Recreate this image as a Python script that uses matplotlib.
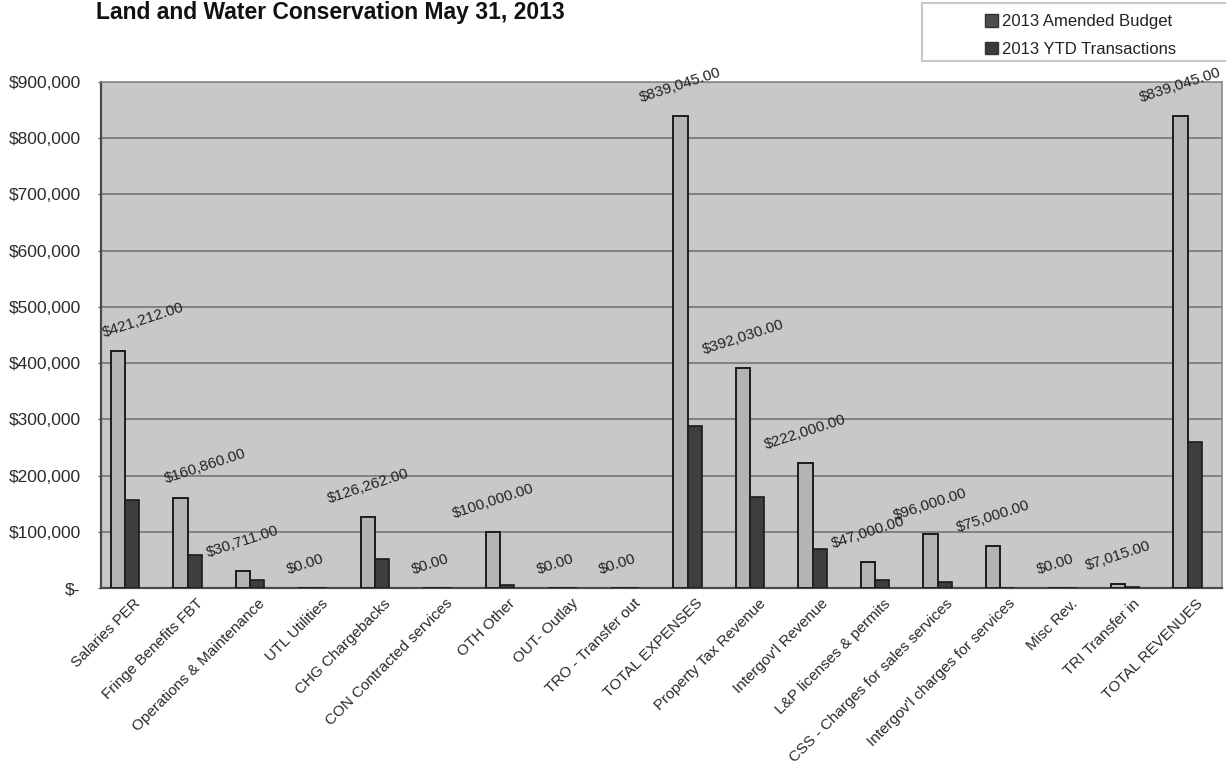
import matplotlib
matplotlib.use("Agg")
import matplotlib.pyplot as plt
from matplotlib.patches import Patch, Rectangle
from matplotlib.ticker import FuncFormatter

plt.rcParams['font.family'] = ['Liberation Sans', 'DejaVu Sans']

title = "Land and Water Conservation May 31, 2013"
categories = ["Salaries PER", "Fringe Benefits FBT", "Operations & Maintenance",
              "UTL Utilities", "CHG Chargebacks", "CON Contracted services",
              "OTH Other", "OUT- Outlay", "TRO - Transfer out", "TOTAL EXPENSES",
              "Property Tax Revenue", "Intergov'l Revenue", "L&P licenses & permits",
              "CSS - Charges for sales services", "Intergov'l charges for services",
              "Misc Rev.", "TRI Transfer in", "TOTAL REVENUES"]
series_names = ["2013 Amended Budget", "2013 YTD Transactions"]
budget = [421212, 160860, 30711, 0, 126262, 0, 100000, 0, 0, 839045,
          392030, 222000, 47000, 96000, 75000, 0, 7015, 839045]
ytd = [157000, 58000, 15000, 0, 51000, 0, 6000, 0, 0, 288000,
       162000, 70000, 15000, 10000, 0, 0, 2000, 259000]
y_ticks = [0, 100000, 200000, 300000, 400000, 500000, 600000, 700000, 800000, 900000]

# label nudges (pixels) for the first two value labels
label_dx = {0: 25, 1: 25}

W, H = 1226, 770
fig = plt.figure(figsize=(W / 100, H / 100), dpi=100)
ax = fig.add_axes([100.7 / W, 1 - 588 / H, 1121 / W, (588 - 82) / H])

bg = '#c8c8c8'
ax.set_facecolor(bg)
bw = 0.23
x = list(range(len(categories)))
ax.bar([i - bw / 2 for i in x], budget, width=bw, color='#b4b4b4',
       edgecolor='#1c1c1c', linewidth=1.4, zorder=3, label=series_names[0])
ax.bar([i + bw / 2 for i in x], ytd, width=bw, color='#3e3e3e',
       edgecolor='#1c1c1c', linewidth=1.2, zorder=3, label=series_names[1])

for i, v in enumerate(budget):
    ax.annotate("${:,.2f}".format(v), xy=(i - bw / 2, v),
                xytext=(label_dx.get(i, 0) * 0.72, 8), textcoords='offset points',
                ha='center', va='bottom', rotation=18, fontsize=11,
                color='#222222', zorder=5, annotation_clip=False)

ax.set_xlim(-0.39, -0.39 + 1121 / 62.5)
ax.set_ylim(0, 900000)
ax.set_yticks(y_ticks)

def money(v, pos):
    if v == 0:
        return "$-"
    return "${:,.0f}".format(v)

ax.yaxis.set_major_formatter(FuncFormatter(money))
ax.tick_params(axis='y', labelsize=12.5, length=2, color='#555555', pad=12.5,
               labelcolor='#2a2a2a')
ax.set_xticks([i + 0.13 for i in x])
ax.set_xticklabels(categories, rotation=45, ha='right', rotation_mode='anchor',
                   fontsize=11, color='#2a2a2a')
ax.tick_params(axis='x', length=0, pad=6)

ax.grid(axis='y', color='#7c7c7c', linewidth=1.3, zorder=1)
ax.set_axisbelow(True)
for side in ['left', 'bottom']:
    ax.spines[side].set_color('#4a4a4a')
    ax.spines[side].set_linewidth(1.6)
for side in ['top', 'right']:
    ax.spines[side].set_color('#8a8a8a')
    ax.spines[side].set_linewidth(1.2)

fig.text(96 / W, 1 - 19 / H, title, fontsize=16.5, fontweight='bold',
         ha='left', va='baseline', color='#111111')

# legend box
fig.patches.append(Rectangle((922 / W, 1 - 61 / H), (W - 922 + 10) / W, 58 / H,
                             transform=fig.transFigure, facecolor='white',
                             edgecolor='#c8c8c8', linewidth=1.5, zorder=0))
handles = [Patch(facecolor='#4e4e4e', edgecolor='#333333'),
           Patch(facecolor='#3a3a3a', edgecolor='#333333')]
fig.legend(handles, series_names, loc='upper left',
           bbox_to_anchor=(972 / W, 1 - 1 / H), frameon=False, fontsize=12,
           handlelength=0.75, handleheight=0.75, handletextpad=0.25,
           labelspacing=0.75, borderpad=0.3, labelcolor='#222222')

fig.savefig("out.png", dpi=100, facecolor='white')
